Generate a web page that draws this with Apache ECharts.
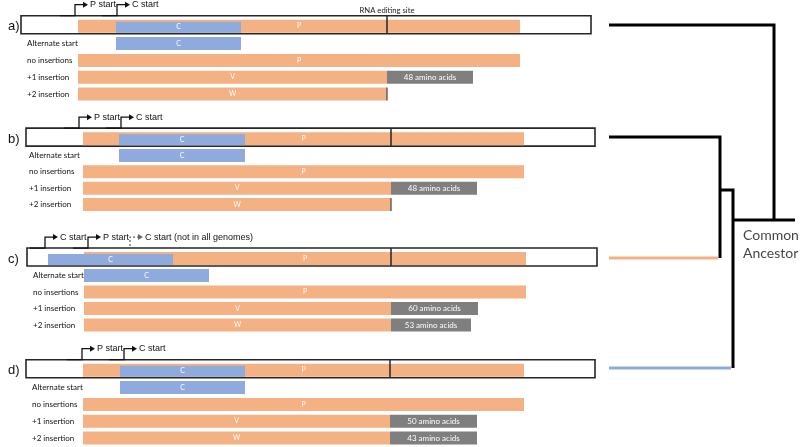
<!DOCTYPE html>
<html>
<head>
<meta charset="utf-8">
<script src="https://cdn.jsdelivr.net/npm/echarts@6/dist/echarts.min.js"></script>
<style>
	html, body { margin: 0; padding: 0; background: #fff; }
	#chart { width: 800px; height: 447px; }
</style>
</head>
<body>
<div id="chart"></div>
<script>
	var panelNames = ['a)', 'b)', 'c)', 'd)'];
	var rowNames = ['Alternate start', 'no insertions', '+1 insertion', '+2 insertion'];

	// genome positions per panel (a, b, c, d)
	var boxStart = [21, 26, 27, 26];
	var boxEnd = [591, 595, 597, 595];
	var pStart = [78, 83, 84, 83];
	var pEnd = [520, 524, 526, 524];
	var cStart = [116, 119, 48, 120];
	var cEnd = [241, 245, 173, 245];
	var altStart = [116, 119, 84, 120];
	var altEnd = [241, 245, 209, 245];
	var editSite = [387, 391, 391, 390];
	var vExtEnd = [473, 477, 478, 477];
	var vExtText = ['48 amino acids', '48 amino acids', '60 amino acids', '50 amino acids'];
	var wExtEnd = [null, null, 471, 477];
	var wExtText = ['', '', '53 amino acids', '43 amino acids'];

	// start arrows above each genome
	var arrowPos = [[75, 117], [79, 121], [45, 88, 130], [82, 124]];
	var arrowText = [
		['P start', 'C start'],
		['P start', 'C start'],
		['C start', 'P start', 'C start (not in all genomes)'],
		['P start', 'C start']
	];
	var arrowDashed = [[0, 0], [0, 0], [0, 0, 1], [0, 0]];

	// tree (depth along x, height along y)
	var leafX = 609;
	var leafY = [25, 137, 258, 368];
	var bcNode = [720, 190];
	var bcdNode = [733, 220];
	var aJoinX = 774;
	var rootEnd = 795;

	var ORANGE = '#F4B183';
	var BLUE = '#8FAADC';
	var GREY = '#7F7F7F';
	var LINE = '#262626';
	var CAL = 'Lato, "Open Sans", sans-serif';
	var ARIAL = '"Liberation Sans", Arial, sans-serif';

	var gridTop = [18.3, 131, 250.8, 362.3];
	var gridHeight = [84.2, 81.7, 82.5, 84.2];
	var labelIndent = [19, 21, 25, 24];

	function panelItems(i) {
		var list = [];
		list.push({ kind: 'box', x0: boxStart[i], x1: boxEnd[i], row: 0 });
		list.push({ kind: 'pbox', x0: pStart[i], x1: pEnd[i], row: 0, text: 'P' });
		list.push({ kind: 'cbox', x0: cStart[i], x1: cEnd[i], row: 0, text: 'C' });
		list.push({ kind: 'edit', x0: editSite[i], x1: editSite[i], row: 0 });
		if (i === 0) {
			list.push({ kind: 'note', x0: editSite[i], x1: editSite[i], row: 0, text: 'RNA editing site' });
		}
		arrowPos[i].forEach(function (x, k) {
			list.push({ kind: arrowDashed[i][k] ? 'dash' : 'arrow', x0: x, x1: x, row: 0, text: arrowText[i][k] });
		});
		list.push({ kind: 'blue', x0: altStart[i], x1: altEnd[i], row: 1, text: 'C' });
		list.push({ kind: 'orange', x0: pStart[i], x1: pEnd[i], row: 2, text: 'P' });
		list.push({ kind: 'orange', x0: pStart[i], x1: editSite[i], row: 3, text: 'V' });
		list.push({ kind: 'grey', x0: editSite[i], x1: vExtEnd[i], row: 3, text: vExtText[i] });
		list.push({ kind: 'orange', x0: pStart[i], x1: editSite[i], row: 4, text: 'W' });
		if (wExtEnd[i]) {
			list.push({ kind: 'grey', x0: editSite[i], x1: wExtEnd[i], row: 4, text: wExtText[i] });
		} else {
			list.push({ kind: 'stop', x0: editSite[i], x1: editSite[i], row: 4 });
		}
		return list;
	}

	function barText(x, y, text, size) {
		return {
			type: 'text',
			style: {
				x: x, y: y, text: text, fill: '#fff',
				font: size + 'px ' + CAL, align: 'center', verticalAlign: 'middle'
			}
		};
	}

	function makeRender(items) {
		return function (params, api) {
			var it = items[params.dataIndex];
			var a = api.coord([api.value(0), api.value(2)]);
			var b = api.coord([api.value(1), api.value(2)]);
			var cy = a[1];
			var top = cy - 11;
			var kids = [];
			var fills = { pbox: ORANGE, cbox: BLUE, orange: ORANGE, blue: BLUE, grey: GREY };
			if (it.kind === 'box') {
				kids.push({ type: 'rect', shape: { x: a[0], y: top, width: b[0] - a[0], height: 18 },
					style: { fill: '#fff', stroke: LINE, lineWidth: 1.6 } });
			} else if (fills[it.kind]) {
				var y0 = cy - 6.5, h = 13;
				if (it.kind === 'pbox') { y0 = cy - 7; h = 13; }
				if (it.kind === 'cbox') { y0 = cy - 5; h = 11; }
				kids.push({ type: 'rect', shape: { x: a[0], y: y0, width: b[0] - a[0], height: h },
					style: { fill: fills[it.kind] } });
				kids.push(barText((a[0] + b[0]) / 2, y0 + h / 2, it.text, it.kind === 'grey' ? 8 : 7));
			} else if (it.kind === 'edit') {
				kids.push({ type: 'line', shape: { x1: a[0], y1: top, x2: a[0], y2: cy + 7 },
					style: { stroke: LINE, lineWidth: 1.5 } });
			} else if (it.kind === 'stop') {
				kids.push({ type: 'line', shape: { x1: a[0], y1: cy - 6.5, x2: a[0], y2: cy + 6.5 },
					style: { stroke: '#444', lineWidth: 1.2 } });
			} else if (it.kind === 'note') {
				kids.push({ type: 'text', style: { x: a[0], y: top - 5, text: it.text, fill: '#222',
					font: '7.7px ' + CAL, align: 'center', verticalAlign: 'middle' } });
			} else {
				var x = a[0];
				var up = top - 11;
				var dashed = it.kind === 'dash';
				var col = dashed ? '#666' : '#111';
				var pts = dashed ? [[x, top - 2], [x, up], [x + 9, up]] : [[x - 15, top], [x, top], [x, up], [x + 9, up]];
				kids.push({ type: 'polyline', shape: { points: pts },
					style: { stroke: col, lineWidth: 1.3, fill: null, lineDash: dashed ? [2, 2] : null } });
				kids.push({ type: 'polygon', shape: { points: [[x + 8, up - 3], [x + 13, up], [x + 8, up + 3]] },
					style: { fill: col } });
				kids.push({ type: 'text', style: { x: x + 15, y: up, text: it.text, fill: '#111',
					font: '9px ' + ARIAL, align: 'left', verticalAlign: 'middle' } });
			}
			return { type: 'group', children: kids };
		};
	}

	var grids = [], xAxes = [], yAxes = [], series = [];
	panelNames.forEach(function (name, i) {
		grids.push({ left: 0, right: 0, top: gridTop[i], height: gridHeight[i] });
		xAxes.push({ type: 'value', gridIndex: i, min: 0, max: 800, show: false });
		yAxes.push({
			type: 'category', gridIndex: i, inverse: true,
			data: [name].concat(rowNames),
			axisLine: { show: false }, axisTick: { show: false }, splitLine: { show: false },
			axisLabel: {
				inside: true, margin: 8, interval: 0,
				formatter: function (v, idx) { return idx === 0 ? '{p|' + v + '}' : '{r|' + v + '}'; },
				rich: {
					p: { fontSize: 13, fontFamily: ARIAL, color: '#111' },
					r: { fontSize: 8, fontFamily: CAL, color: '#111', padding: [0, 0, 0, labelIndent[i]] }
				}
			}
		});
		var items = panelItems(i);
		series.push({
			type: 'custom', xAxisIndex: i, yAxisIndex: i, clip: false, silent: true,
			renderItem: makeRender(items),
			encode: { x: [0, 1], y: 2 },
			data: items.map(function (it) { return [it.x0, it.x1, it.row]; })
		});
	});

	// tree grid covering the whole canvas
	grids.push({ left: 0, right: 0, top: 0, bottom: 0 });
	xAxes.push({ type: 'value', gridIndex: 4, min: 0, max: 800, show: false });
	yAxes.push({ type: 'value', gridIndex: 4, min: 0, max: 447, inverse: true, show: false });

	var treeEdges = [
		{ color: '#000', pts: [[leafX, leafY[0]], [aJoinX, leafY[0]], [aJoinX, bcdNode[1]]] },
		{ color: '#000', pts: [[leafX, leafY[1]], [bcNode[0], leafY[1]], [bcNode[0], leafY[2]]] },
		{ color: ORANGE, pts: [[leafX, leafY[2]], [bcNode[0] - 2, leafY[2]]] },
		{ color: '#000', pts: [[bcNode[0], bcNode[1]], [bcdNode[0], bcNode[1]], [bcdNode[0], leafY[3]]] },
		{ color: BLUE, pts: [[leafX, leafY[3]], [bcdNode[0] - 2, leafY[3]]] },
		{ color: '#000', pts: [[bcdNode[0], bcdNode[1]], [rootEnd, bcdNode[1]]] }
	];
	treeEdges.forEach(function (e) {
		series.push({
			type: 'line', xAxisIndex: 4, yAxisIndex: 4, symbol: 'none', silent: true,
			lineStyle: { color: e.color, width: 3, join: 'miter' },
			data: e.pts
		});
	});
	series.push({
		type: 'scatter', xAxisIndex: 4, yAxisIndex: 4, symbolSize: 0, silent: true,
		data: [[bcdNode[0], bcdNode[1]]],
		label: {
			show: true, position: [10, 6], formatter: 'Common\nAncestor',
			fontSize: 14, fontFamily: CAL, color: '#111', lineHeight: 18, align: 'left'
		}
	});

	var chart = echarts.init(document.getElementById('chart'));
	chart.setOption({
		animation: false,
		grid: grids,
		xAxis: xAxes,
		yAxis: yAxes,
		series: series
	});
	window.addEventListener('resize', function () {
		chart.resize();
	});
</script>
</body>
</html>
